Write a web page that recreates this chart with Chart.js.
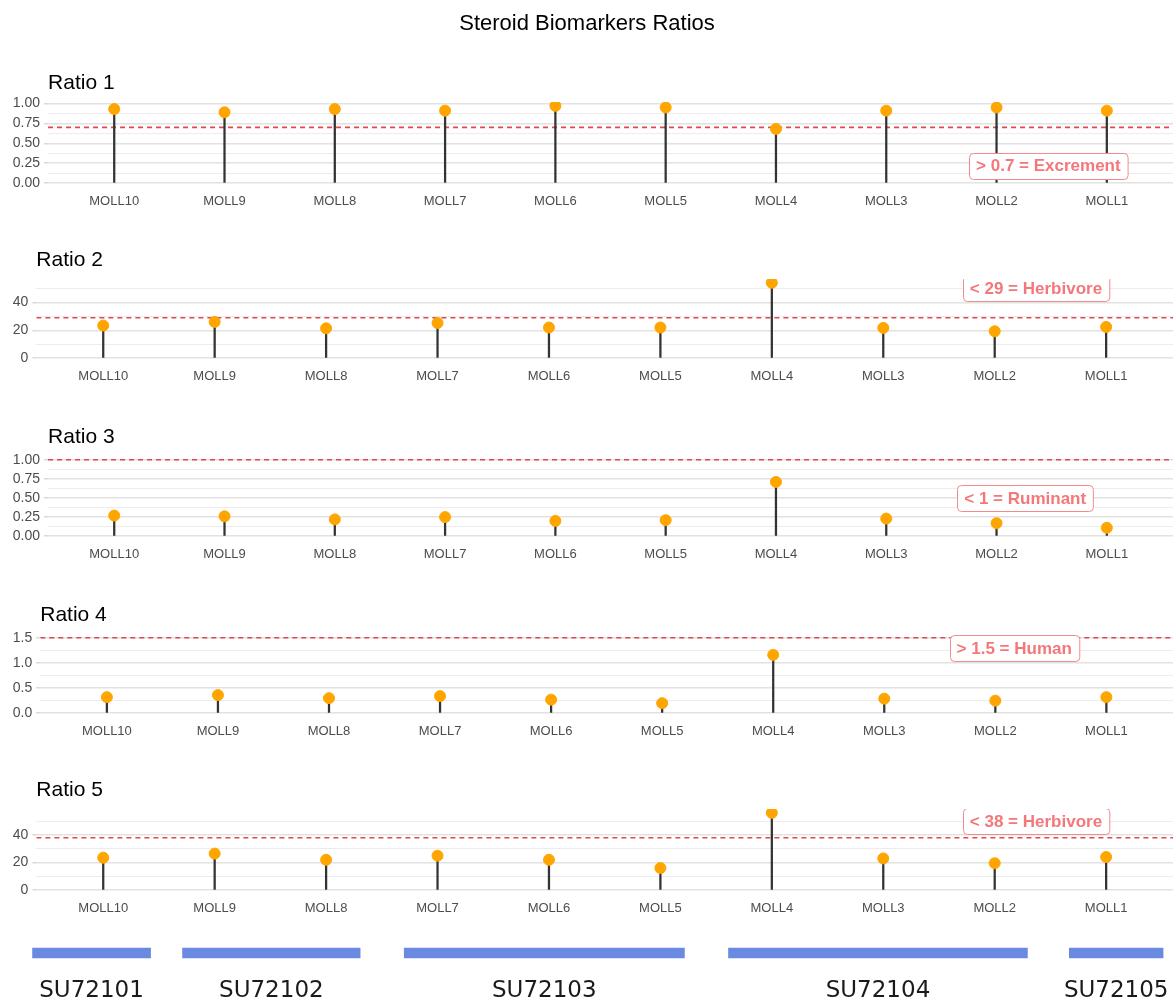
<!DOCTYPE html>
<html>
<head>
<meta charset="utf-8">
<title>Steroid Biomarkers Ratios</title>
<script src="https://cdn.jsdelivr.net/npm/chart.js@4.4.1/dist/chart.umd.min.js"></script>
<style>
  html, body { margin: 0; padding: 0; background: #ffffff; }
  #page { position: relative; width: 1174px; height: 1005px; overflow: hidden; background: #ffffff; }
  #page canvas { position: absolute; left: 0; }
</style>
</head>
<body>
<div id="page"></div>
<script>
// ---- data ----------------------------------------------------------------
const samples = ['MOLL10', 'MOLL9', 'MOLL8', 'MOLL7', 'MOLL6', 'MOLL5', 'MOLL4', 'MOLL3', 'MOLL2', 'MOLL1'];

const ratio1 = [0.93, 0.89, 0.93, 0.91, 0.97, 0.95, 0.68, 0.91, 0.95, 0.91];
const ratio2 = [23.4, 26.0, 21.4, 25.2, 22.0, 22.0, 54.0, 21.7, 19.3, 22.4];
const ratio3 = [0.27, 0.26, 0.22, 0.25, 0.20, 0.21, 0.71, 0.23, 0.17, 0.11];
const ratio4 = [0.32, 0.36, 0.30, 0.34, 0.27, 0.20, 1.16, 0.29, 0.25, 0.32];
const ratio5 = [23.5, 26.5, 22.0, 25.0, 22.0, 16.0, 56.0, 23.0, 19.5, 24.0];

const ratioTitles = ['Ratio 1', 'Ratio 2', 'Ratio 3', 'Ratio 4', 'Ratio 5'];

// reference threshold of each ratio and its note
const thresholds = [0.7, 29, 1, 1.5, 38];
const thresholdNotes = ['> 0.7 = Excrement', '< 29 = Herbivore', '< 1 = Ruminant', '> 1.5 = Human', '< 38 = Herbivore'];
// anchor of each note, in axis units
const noteX = [9.47, 9.37, 9.26, 9.17, 9.37];
const noteY = [0.22, 50, 0.5, 1.3, 50];

// labelled (major) y ticks and unlabelled (minor) y gridlines
const majorTicks1 = [0, 0.25, 0.5, 0.75, 1];
const tickLabels1 = ['0.00', '0.25', '0.50', '0.75', '1.00'];
const minorTicks1 = [0.125, 0.375, 0.625, 0.875];

const majorTicks2 = [0, 20, 40];
const tickLabels2 = ['0', '20', '40'];
const minorTicks2 = [10, 30, 50];

const majorTicks3 = [0, 0.25, 0.5, 0.75, 1];
const tickLabels3 = ['0.00', '0.25', '0.50', '0.75', '1.00'];
const minorTicks3 = [0.125, 0.375, 0.625, 0.875];

const majorTicks4 = [0, 0.5, 1, 1.5];
const tickLabels4 = ['0.0', '0.5', '1.0', '1.5'];
const minorTicks4 = [0.25, 0.75, 1.25];

const majorTicks5 = [0, 20, 40];
const tickLabels5 = ['0', '20', '40'];
const minorTicks5 = [10, 30, 50];

// sample units (sites) spanning the samples, in axis units
const units = ['SU72101', 'SU72102', 'SU72103', 'SU72104', 'SU72105'];
const unitStart = [0.26, 1.62, 3.63, 6.57, 9.66];
const unitEnd = [1.33, 3.23, 6.17, 9.28, 10.51];

// ---- layout & style --------------------------------------------------------
const FONT = "'Liberation Sans', Arial, sans-serif";
const PAGE_W = 1174;
const panelTops = [102, 279, 456, 634, 809];
const panelHeights = [85, 83, 84, 83, 85];
const X_AXIS_H = 24;
const X_MIN = 0.4, X_MAX = 10.6;

Chart.defaults.font.family = FONT;
Chart.defaults.animation = false;

const page = document.getElementById('page');
function addCanvas(top, height) {
  const c = document.createElement('canvas');
  c.width = PAGE_W;
  c.height = height;
  c.style.top = top + 'px';
  c.style.width = PAGE_W + 'px';
  c.style.height = height + 'px';
  page.appendChild(c);
  return c;
}

function roundedRect(ctx, x, y, w, h, r) {
  ctx.beginPath();
  ctx.moveTo(x + r, y);
  ctx.lineTo(x + w - r, y);
  ctx.arcTo(x + w, y, x + w, y + r, r);
  ctx.lineTo(x + w, y + h - r);
  ctx.arcTo(x + w, y + h, x + w - r, y + h, r);
  ctx.lineTo(x + r, y + h);
  ctx.arcTo(x, y + h, x, y + h - r, r);
  ctx.lineTo(x, y + r);
  ctx.arcTo(x, y, x + r, y, r);
  ctx.closePath();
}

// panel title, optional page heading and the threshold note box
const panelDecor = {
  id: 'panelDecor',
  afterDatasetsDraw(chart, args, opts) {
    const { ctx, chartArea: a, scales } = chart;
    if (!opts.note) return;
    const x = scales.x.getPixelForValue(opts.noteX);
    const y = scales.y.getPixelForValue(opts.noteY);
    ctx.save();
    ctx.beginPath();
    ctx.rect(a.left, a.top, a.right - a.left, a.bottom - a.top);
    ctx.clip();
    ctx.font = 'bold 17px ' + FONT;
    const w = ctx.measureText(opts.note).width + 14;
    const h = 26;
    roundedRect(ctx, Math.round(x - w / 2) + 0.5, Math.round(y - h / 2) + 0.5, w, h, 4);
    ctx.fillStyle = '#ffffff';
    ctx.fill();
    ctx.lineWidth = 1;
    ctx.strokeStyle = '#F08C8C';
    ctx.stroke();
    ctx.fillStyle = '#F4777A';
    ctx.textAlign = 'center';
    ctx.textBaseline = 'middle';
    ctx.fillText(opts.note, x, y + 1);
    ctx.restore();
  },
  afterDraw(chart, args, opts) {
    const { ctx, chartArea: a } = chart;
    ctx.save();
    ctx.fillStyle = '#000000';
    ctx.textBaseline = 'alphabetic';
    ctx.font = '21px ' + FONT;
    ctx.textAlign = 'left';
    ctx.fillText(opts.title, a.left, a.top - 13);
    if (opts.heading) {
      ctx.font = '22px ' + FONT;
      ctx.textAlign = 'center';
      ctx.fillText(opts.heading, chart.width / 2, 30);
    }
    ctx.restore();
  }
};

function sameValue(a, b) { return Math.abs(a - b) < 1e-9; }

function makePanel(i, values, majorTicks, tickLabels, minorTicks) {
  const canvasTop = i === 0 ? 0 : panelTops[i] - 40;
  const padTop = panelTops[i] - canvasTop;
  const height = padTop + panelHeights[i] + X_AXIS_H;
  const canvas = addCanvas(canvasTop, height);

  // value range grows 5% beyond the data, the zero line and the threshold
  const hi = Math.max(...values, thresholds[i]);
  const lo = Math.min(0, ...values);
  const pad = (hi - lo) * 0.05;
  const yTicks = majorTicks.concat(minorTicks).sort((p, q) => p - q);
  const isMajor = v => majorTicks.some(m => sameValue(m, v));

  const points = values.map((v, k) => ({ x: k + 1, y: v }));

  new Chart(canvas, {
    type: 'bar',
    data: {
      datasets: [
        {
          type: 'line',
          data: points,
          showLine: false,
          pointRadius: 5.5,
          pointHoverRadius: 5.5,
          pointBackgroundColor: '#FFA500',
          pointBorderColor: '#FFA500',
          pointBorderWidth: 1,
          clip: 0,
          order: 0
        },
        {
          type: 'bar',
          data: points,
          backgroundColor: '#333333',
          barThickness: 1.6,
          order: 1
        },
        {
          type: 'line',
          data: [{ x: X_MIN, y: thresholds[i] }, { x: X_MAX, y: thresholds[i] }],
          borderColor: '#E0484C',
          borderWidth: 1.6,
          borderDash: [5, 4],
          pointRadius: 0,
          order: 2
        }
      ]
    },
    options: {
      responsive: false,
      events: [],
      layout: { autoPadding: false, padding: { top: padTop, left: 8.8, right: 1, bottom: 0 } },
      plugins: {
        legend: { display: false },
        tooltip: { enabled: false },
        panelDecor: {
          title: ratioTitles[i],
          heading: i === 0 ? 'Steroid Biomarkers Ratios' : '',
          note: thresholdNotes[i],
          noteX: noteX[i],
          noteY: noteY[i]
        }
      },
      scales: {
        x: {
          type: 'linear',
          min: X_MIN,
          max: X_MAX,
          offset: false,
          grid: { display: false },
          border: { display: false },
          afterBuildTicks: s => { s.ticks = samples.map((_, k) => ({ value: k + 1 })); },
          afterFit: s => { s.height = X_AXIS_H; },
          ticks: {
            autoSkip: false,
            maxRotation: 0,
            padding: -1,
            color: '#4D4D4D',
            font: { size: 13, family: FONT },
            callback: v => samples[Math.round(v) - 1]
          }
        },
        y: {
          type: 'linear',
          min: lo - pad,
          max: hi + pad,
          border: { display: false },
          afterBuildTicks: s => { s.ticks = yTicks.map(v => ({ value: v })); },
          grid: {
            drawTicks: true,
            tickLength: 4,
            color: c => (c.tick && isMajor(c.tick.value)) ? '#E2E2E2' : '#ECECEC',
            lineWidth: c => (c.tick && isMajor(c.tick.value)) ? 1.5 : 1.1,
            tickColor: c => (c.tick && isMajor(c.tick.value)) ? '#D8D8D8' : 'rgba(0,0,0,0)',
            tickWidth: 1.5
          },
          ticks: {
            autoSkip: false,
            padding: 4,
            color: '#4D4D4D',
            font: { size: 14, family: FONT },
            callback: v => {
              const idx = majorTicks.findIndex(m => sameValue(m, v));
              return idx >= 0 ? tickLabels[idx] : '';
            }
          }
        }
      }
    },
    plugins: [panelDecor]
  });
}

makePanel(0, ratio1, majorTicks1, tickLabels1, minorTicks1);
makePanel(1, ratio2, majorTicks2, tickLabels2, minorTicks2);
makePanel(2, ratio3, majorTicks3, tickLabels3, minorTicks3);
makePanel(3, ratio4, majorTicks4, tickLabels4, minorTicks4);
makePanel(4, ratio5, majorTicks5, tickLabels5, minorTicks5);

// ---- sample unit bars along the bottom --------------------------------------
const unitLabels = {
  id: 'unitLabels',
  afterDatasetsDraw(chart) {
    const { ctx, chartArea: a } = chart;
    const meta = chart.getDatasetMeta(0);
    ctx.save();
    ctx.fillStyle = '#1A1A1A';
    ctx.font = "23px 'DejaVu Sans', sans-serif";
    ctx.textAlign = 'center';
    ctx.textBaseline = 'middle';
    meta.data.forEach((bar, k) => {
      const p = bar.getProps(['x', 'base'], true);
      ctx.fillText(units[k], (p.x + p.base) / 2, a.bottom + 15);
    });
    ctx.restore();
  }
};

const unitCanvas = addCanvas(930, 75);
new Chart(unitCanvas, {
  type: 'bar',
  data: {
    labels: ['units'],
    datasets: [{
      data: units.map((u, k) => ({ x: [unitStart[k], unitEnd[k]], y: 'units' })),
      backgroundColor: '#6A8AE2',
      barThickness: 10,
      clip: false
    }]
  },
  options: {
    indexAxis: 'y',
    responsive: false,
    events: [],
    layout: { autoPadding: false, padding: { top: 0, left: 48, right: 1, bottom: 29 } },
    plugins: { legend: { display: false }, tooltip: { enabled: false } },
    scales: {
      x: { type: 'linear', min: X_MIN, max: X_MAX, display: false },
      y: { type: 'category', display: false }
    }
  },
  plugins: [unitLabels]
});
</script>
</body>
</html>
